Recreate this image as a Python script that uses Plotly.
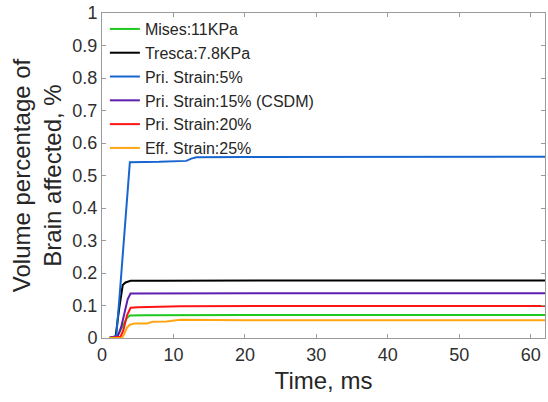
import plotly.graph_objects as go

# Volume fraction of brain tissue exceeding each injury threshold over time
series_names = [
    "Mises:11KPa",
    "Tresca:7.8KPa",
    "Pri. Strain:5%",
    "Pri. Strain:15% (CSDM)",
    "Pri. Strain:20%",
    "Eff. Strain:25%",
]
series_colors = ["#1ec81e", "#000000", "#1766d0", "#5e1fb0", "#ff1414", "#ffa514"]

# time (ms) and affected volume (%) for each criterion
t_mises = [1, 2.0, 2.5, 3.0, 3.5, 3.9, 6, 20, 40, 62]
v_mises = [0, 0.003, 0.02, 0.042, 0.062, 0.069, 0.070, 0.0705, 0.0708, 0.0708]

t_tresca = [1, 1.9, 2.4, 2.9, 3.3, 4.0, 8, 30, 62]
v_tresca = [0, 0.004, 0.09, 0.163, 0.171, 0.176, 0.1765, 0.177, 0.177]

t_pri5 = [1, 1.5, 2.0, 2.5, 3.0, 3.5, 3.9, 8, 11.8, 12.5, 13.2, 20, 40, 62]
v_pri5 = [0, 0.002, 0.006, 0.14, 0.29, 0.44, 0.541, 0.542, 0.545, 0.552, 0.556, 0.557, 0.557, 0.558]

t_pri15 = [1, 2.2, 2.7, 3.2, 3.6, 4.0, 10, 30, 62]
v_pri15 = [0, 0.004, 0.035, 0.085, 0.12, 0.137, 0.1375, 0.138, 0.138]

t_pri20 = [1, 2.6, 3.0, 3.5, 4.0, 5.0, 8, 11, 30, 62]
v_pri20 = [0, 0.004, 0.025, 0.07, 0.093, 0.095, 0.096, 0.098, 0.0985, 0.0985]

t_eff25 = [1, 2.8, 3.1, 3.5, 3.9, 4.6, 6.3, 7.1, 9.0, 10.0, 11.0, 20, 40, 62]
v_eff25 = [0, 0.001, 0.012, 0.032, 0.041, 0.045, 0.045, 0.050, 0.051, 0.054, 0.056, 0.055, 0.055, 0.055]

x_ticks = [0, 10, 20, 30, 40, 50, 60]
y_ticks = [0, 0.1, 0.2, 0.3, 0.4, 0.5, 0.6, 0.7, 0.8, 0.9, 1]

all_t = [t_mises, t_tresca, t_pri5, t_pri15, t_pri20, t_eff25]
all_v = [v_mises, v_tresca, v_pri5, v_pri15, v_pri20, v_eff25]

FONT = "Liberation Sans, Arial, sans-serif"
AXIS_GRAY = "#9a9a9a"
TEXT_DARK = "#262626"

fig = go.Figure()
for name, color, t, v in zip(series_names, series_colors, all_t, all_v):
    fig.add_trace(go.Scatter(
        x=t, y=v, mode="lines", name=name,
        line=dict(color=color, width=2),
    ))

axis_common = dict(
    showgrid=False, zeroline=False,
    showline=True, linecolor=AXIS_GRAY, linewidth=1,
    mirror="allticks", ticks="inside", ticklen=4, tickcolor=AXIS_GRAY,
    tickfont=dict(family=FONT, size=18, color="#303030"),
)

fig.update_layout(
    width=548, height=402,
    margin=dict(l=102, r=3, t=13, b=64),
    paper_bgcolor="white", plot_bgcolor="white",
    font=dict(family=FONT, color=TEXT_DARK),
    xaxis=dict(
        range=[0, 62], tickvals=x_ticks,
        title=dict(text="Time, ms", font=dict(family=FONT, size=24, color=TEXT_DARK), standoff=8),
        **axis_common,
    ),
    yaxis=dict(
        range=[0, 1], tickvals=y_ticks, ticktext=[f"{y:g}" for y in y_ticks],
        title=dict(text="Volume percentage of<br>Brain affected, %",
                   font=dict(family=FONT, size=24, color=TEXT_DARK), standoff=3),
        **axis_common,
    ),
    legend=dict(
        x=0.0065, y=1.003, xanchor="left", yanchor="top",
        bgcolor="rgba(0,0,0,0)", borderwidth=0,
        font=dict(family=FONT, size=16, color=TEXT_DARK),
        itemwidth=30, tracegroupgap=0,
    ),
    showlegend=True,
)

fig.write_html("out.html")
